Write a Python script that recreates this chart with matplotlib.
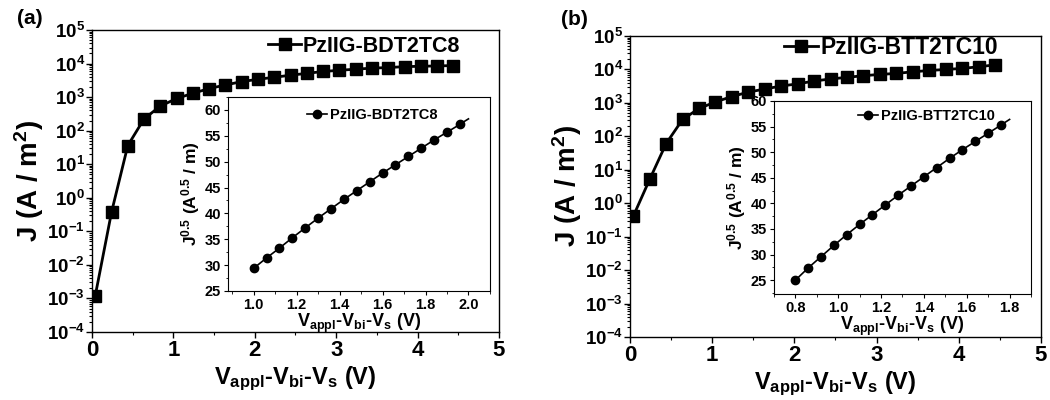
import numpy as np
import matplotlib
matplotlib.use("Agg")
import matplotlib.pyplot as plt
from matplotlib.ticker import LogLocator, MultipleLocator, LogFormatterSciNotation, FormatStrFormatter

plt.rcParams['font.family'] = ['Liberation Sans', 'DejaVu Sans']
plt.rcParams['font.weight'] = 'bold'
plt.rcParams['axes.labelweight'] = 'bold'
plt.rcParams['mathtext.fontset'] = 'custom'
plt.rcParams['mathtext.rm'] = 'Liberation Sans:bold'
plt.rcParams['mathtext.it'] = 'Liberation Sans:bold'
plt.rcParams['mathtext.bf'] = 'Liberation Sans:bold'

# ---------------- data ----------------
v_main = [0.04, 0.24, 0.44, 0.64, 0.84, 1.04, 1.24, 1.44, 1.64, 1.84, 2.04, 2.24,
          2.44, 2.64, 2.84, 3.04, 3.24, 3.44, 3.64, 3.84, 4.04, 4.24, 4.44]
j_a = [1.2e-3, 0.37, 36, 225, 540, 910, 1300, 1800, 2300, 2900, 3400, 3900,
       4500, 5100, 5800, 6300, 6800, 7300, 7600, 8100, 8300, 8500, 8700]
j_b = [0.41, 5.2, 61, 320, 680, 1070, 1550, 2100, 2600, 3200, 3700, 4500,
       5200, 5800, 6500, 7100, 7600, 8500, 9300, 10000, 10700, 12000, 13700]

v_in_a = [1.00, 1.06, 1.12, 1.18, 1.24, 1.30, 1.36, 1.42, 1.48, 1.54, 1.60,
          1.66, 1.72, 1.78, 1.84, 1.90, 1.96]
sq_a = [29.4, 31.4, 33.3, 35.3, 37.2, 39.1, 40.9, 42.7, 44.4, 46.1, 47.8,
        49.4, 51.0, 52.6, 54.2, 55.7, 57.2]
v_in_b = [0.80, 0.86, 0.92, 0.98, 1.04, 1.10, 1.16, 1.22, 1.28, 1.34, 1.40,
          1.46, 1.52, 1.58, 1.64, 1.70, 1.76]
sq_b = [25.0, 27.4, 29.6, 31.8, 33.9, 35.9, 37.8, 39.7, 41.6, 43.4, 45.2,
        47.0, 48.8, 50.5, 52.1, 53.7, 55.3]

label_a = "PzIIG-BDT2TC8"
label_b = "PzIIG-BTT2TC10"
fit_end_a = 2.0
fit_end_b = 1.8

xlab = r"$\mathdefault{V_{appl}}$-$\mathdefault{V_{bi}}$-$\mathdefault{V_{s}}$ (V)"
ylab_main = r"J (A / m$\mathdefault{^{2}}$)"
ylab_in = r"J$\mathdefault{^{0.5}}$ (A$\mathdefault{^{0.5}}$ / m)"

fig = plt.figure(figsize=(10.5, 4), dpi=100)


def main_axes(rect, v, j, label, leg_anchor, leg_fs):
    ax = fig.add_axes(rect)
    ax.set_yscale('log')
    ax.plot(v, j, '-', color='black', lw=2.0, marker='s', ms=8.5, label=label)
    ax.set_xlim(0, 5)
    ax.set_ylim(1e-4, 1e5)
    ax.xaxis.set_major_locator(MultipleLocator(1))
    ax.xaxis.set_minor_locator(MultipleLocator(0.5))
    ax.yaxis.set_major_locator(LogLocator(base=10, numticks=20))
    ax.yaxis.set_minor_locator(LogLocator(base=10, subs=np.arange(2, 10), numticks=20))
    ax.yaxis.set_major_formatter(LogFormatterSciNotation())
    ax.tick_params(axis='x', which='major', labelsize=16, length=4, width=1, direction='out', pad=2)
    ax.tick_params(axis='y', which='major', labelsize=13.5, length=4, width=1, direction='out', pad=1)
    ax.tick_params(which='minor', length=2, width=0.8, direction='out')
    for lab in ax.get_xticklabels() + ax.get_yticklabels():
        lab.set_fontweight('bold')
    ax.set_xlabel(xlab, fontsize=17, labelpad=2)
    ax.set_ylabel(ylab_main, fontsize=20, labelpad=1)
    for s in ax.spines.values():
        s.set_linewidth(1.0)
    ax.legend(loc='center right', bbox_to_anchor=leg_anchor, frameon=False,
              handlelength=1.5, handletextpad=0.1,
              borderaxespad=0, borderpad=0, numpoints=1,
              prop={'weight': 'bold', 'size': leg_fs})
    return ax


def inset_axes(rect, v, s, label, xend, xlim, ylim, xmaj, leg_anchor):
    ax = fig.add_axes(rect)
    v = np.asarray(v)
    s = np.asarray(s)
    ax.plot(v, s, '-', color='black', lw=1.2, marker='o', ms=6, label=label)
    k, b = np.polyfit(v[-5:], s[-5:], 1)
    xe = np.array([v[-1], xend])
    ax.plot(xe, k * xe + b, '-', color='black', lw=1.2)
    ax.set_xlim(*xlim)
    ax.set_ylim(*ylim)
    ax.xaxis.set_major_locator(MultipleLocator(xmaj))
    ax.xaxis.set_minor_locator(MultipleLocator(xmaj / 2))
    ax.xaxis.set_major_formatter(FormatStrFormatter('%.1f'))
    ax.yaxis.set_major_locator(MultipleLocator(5))
    ax.yaxis.set_minor_locator(MultipleLocator(2.5))
    ax.tick_params(which='major', labelsize=10.5, length=3, width=0.8, direction='out', pad=2)
    ax.tick_params(which='minor', length=1.8, width=0.6, direction='out')
    for lab in ax.get_xticklabels() + ax.get_yticklabels():
        lab.set_fontweight('bold')
    ax.set_xlabel(xlab, fontsize=13, labelpad=0)
    ax.set_ylabel(ylab_in, fontsize=12.5, labelpad=2)
    for sp in ax.spines.values():
        sp.set_linewidth(0.8)
    ax.legend(loc='center right', bbox_to_anchor=leg_anchor, frameon=False,
              handlelength=1.4, handletextpad=0.2, borderaxespad=0, borderpad=0,
              numpoints=1, prop={'weight': 'bold', 'size': 10.5})
    return ax


axa = main_axes([0.0876, 0.17, 0.3876, 0.755], v_main, j_a, label_a, (0.905, 0.947), 15.5)
axb = main_axes([0.600, 0.1575, 0.3914, 0.7525], v_main, j_b, label_b, (0.895, 0.963), 16.5)

inset_axes([0.2171, 0.2725, 0.2495, 0.485], v_in_a, sq_a, label_a, fit_end_a,
           (0.88, 2.1), (25, 62.5), 0.2, (0.80, 0.907))
inset_axes([0.7371, 0.265, 0.2448, 0.4825], v_in_b, sq_b, label_b, fit_end_b,
           (0.7, 1.9), (22.3, 60), 0.2, (0.86, 0.922))

fig.text(0.016, 0.955, "(a)", fontsize=15, fontweight='bold', va='center', ha='left')
fig.text(0.534, 0.952, "(b)", fontsize=15, fontweight='bold', va='center', ha='left')

fig.savefig("out.png", dpi=100)
